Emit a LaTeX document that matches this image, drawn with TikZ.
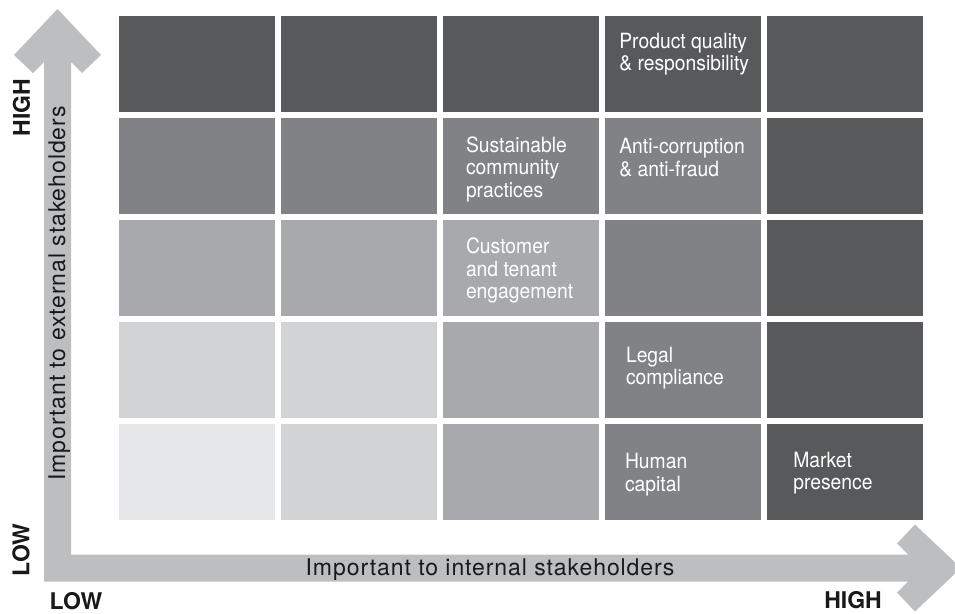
\documentclass[tikz,border=0pt]{standalone}
\usepackage{fontspec}
\setmainfont{TeX Gyre Heros}
\newfontfamily\cellfont[FakeStretch=0.92]{TeX Gyre Heros}
\newfontfamily\axisfont[LetterSpace=4]{TeX Gyre Heros}

\definecolor{gDark}{HTML}{58595B}
\definecolor{gMid}{HTML}{808285}
\definecolor{gSoft}{HTML}{A7A9AC}
\definecolor{gPale}{HTML}{D1D3D4}
\definecolor{gFaint}{HTML}{E6E7E8}
\definecolor{gArrow}{HTML}{BCBEC0}

\begin{document}
\begin{tikzpicture}[x=1pt, y=-1pt,
  cell/.style={rectangle, minimum width=156pt, minimum height=96pt, inner sep=0pt},
  celltext/.style={anchor=north west, inner sep=0pt, align=left, text=white,
    font=\cellfont\fontsize{21}{22.5}\selectfont},
  axistext/.style={inner sep=0pt, anchor=base, text=black!90,
    font=\axisfont\fontsize{23}{27}\selectfont},
  endtext/.style={inner sep=0pt, text=black!90, font=\bfseries\fontsize{23}{27}\selectfont}]
\useasboundingbox (0,0) rectangle (955,613);

% L-shaped double arrow
\fill[gArrow] (57.5,9) -- (101,55) -- (82,73) -- (71,62) -- (71,554.5)
  -- (908,554.5) -- (897,543.5) -- (915,524.5) -- (961,568) -- (915,611.5)
  -- (897,592.5) -- (908,581.5) -- (44,581.5) -- (44,62) -- (33,73) -- (14,55) -- cycle;

% row 1
\node[cell, fill=gDark] (c11) at (197,64) {};
\node[cell, fill=gDark] (c12) at (359,64) {};
\node[cell, fill=gDark] (c13) at (521,64) {};
\node[cell, fill=gDark] (c14) at (683,64) {};
\node[cell, fill=gDark] (c15) at (845,64) {};
% row 2
\node[cell, fill=gMid] (c21) at (197,166) {};
\node[cell, fill=gMid] (c22) at (359,166) {};
\node[cell, fill=gMid] (c23) at (521,166) {};
\node[cell, fill=gMid] (c24) at (683,166) {};
\node[cell, fill=gDark] (c25) at (845,166) {};
% row 3
\node[cell, fill=gSoft] (c31) at (197,268) {};
\node[cell, fill=gSoft] (c32) at (359,268) {};
\node[cell, fill=gSoft] (c33) at (521,268) {};
\node[cell, fill=gMid] (c34) at (683,268) {};
\node[cell, fill=gDark] (c35) at (845,268) {};
% row 4
\node[cell, fill=gPale] (c41) at (197,370) {};
\node[cell, fill=gPale] (c42) at (359,370) {};
\node[cell, fill=gSoft] (c43) at (521,370) {};
\node[cell, fill=gMid] (c44) at (683,370) {};
\node[cell, fill=gDark] (c45) at (845,370) {};
% row 5
\node[cell, fill=gFaint] (c51) at (197,472) {};
\node[cell, fill=gPale] (c52) at (359,472) {};
\node[cell, fill=gSoft] (c53) at (521,472) {};
\node[cell, fill=gMid] (c54) at (683,472) {};
\node[cell, fill=gDark] (c55) at (845,472) {};

% topics
\node[celltext] (product) at ([shift={(14.3,16.7)}]c14.north west) {Product quality\\\& responsibility};
\node[celltext] (anticorr) at ([shift={(14.3,20.3)}]c24.north west) {Anti-corruption\\\& anti-fraud};
\node[celltext] (community) at ([shift={(23,18.7)}]c23.north west) {Sustainable\\community\\practices};
\node[celltext] (customer) at ([shift={(23,18.3)}]c33.north west) {Customer\\and tenant\\engagement};
\node[celltext] (legal) at ([shift={(21,24.7)}]c44.north west) {Legal\\compliance};
\node[celltext] (human) at ([shift={(20,29.3)}]c54.north west) {Human\\capital};
\node[celltext] (market) at ([shift={(26.3,27.7)}]c55.north west) {Market\\presence};

% axes
\node[axistext, rotate=90] (extaxis) at (65,293.5) {Important to external stakeholders};
\node[axistext] (intaxis) at (490,575) {Important to internal stakeholders};
\node[endtext, rotate=90] (yhigh) at (21.5,107.5) {HIGH};
\node[endtext, rotate=90] (ylow) at (21,550) {LOW};
\node[endtext] (xlow) at (76,601.5) {LOW};
\node[endtext] (xhigh) at (853,600.5) {HIGH};
\end{tikzpicture}
\end{document}
